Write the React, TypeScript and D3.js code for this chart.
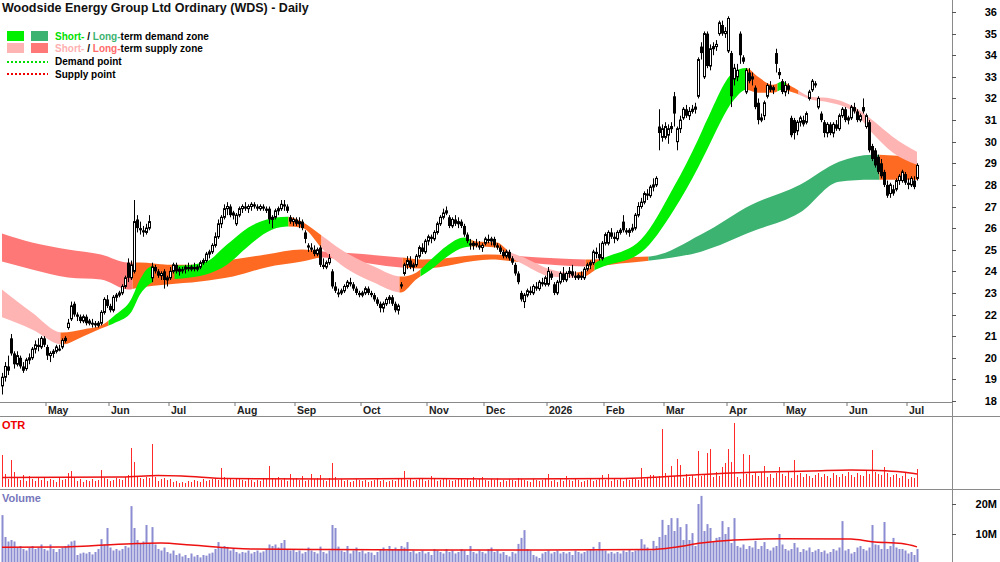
import React from 'react';
import * as d3 from 'd3';

const FONT = '"Liberation Sans", Arial, sans-serif';

// daily candles: [open, high, low, close]
const candles: number[][] = [
  [18.7,19.3,18.3,19.1],[19.1,19.8,18.9,19.6],[19.6,20.1,19.2,19.4],[20.9,21.1,20.1,20.2],[20.2,20.3,19.5,19.7],
  [19.7,20.3,19.6,20.1],[20.0,20.1,19.5,19.6],[19.6,19.8,19.3,19.4],[19.5,20.0,19.4,19.9],[19.9,20.2,19.7,20.0],
  [20.0,20.5,19.9,20.4],[20.4,20.8,20.2,20.6],[20.6,20.9,20.3,20.5],[20.5,21.0,20.4,20.9],[20.9,21.0,20.5,20.6],
  [20.5,20.6,19.9,20.1],[20.1,20.3,19.8,20.2],[20.2,20.4,20.0,20.3],[20.3,20.6,20.2,20.5],[20.4,20.6,20.3,20.4],
  [20.5,20.9,20.4,20.8],[20.8,21.0,20.7,20.9],[21.4,21.8,21.3,21.6],[21.8,22.6,21.7,22.4],[22.5,22.6,21.9,22.0],
  [22.0,22.1,21.7,21.9],[21.9,22.0,21.6,21.7],[21.7,22.0,21.6,21.9],[21.9,22.0,21.5,21.6],[21.6,21.8,21.5,21.7],
  [21.6,21.8,21.4,21.6],[21.6,21.7,21.4,21.5],[21.5,21.7,21.4,21.6],[21.6,22.2,21.5,22.1],[22.1,22.8,22.0,22.7],
  [22.7,22.9,22.3,22.4],[22.4,22.5,22.1,22.2],[22.2,22.9,22.1,22.8],[22.8,23.0,22.6,22.9],[22.9,23.1,22.8,23.0],
  [23.0,23.4,22.9,23.3],[23.3,23.8,23.2,23.7],[24.4,24.6,23.5,23.7],[23.7,24.5,23.6,24.3],[24.0,27.3,23.9,26.3],
  [26.4,26.6,25.8,26.0],[26.0,26.3,25.7,25.9],[25.9,26.1,25.6,25.8],[25.8,26.2,25.7,26.0],[26.0,26.6,25.9,26.3],
  [23.7,24.4,23.5,24.2],[24.2,24.3,23.9,24.0],[24.0,24.1,23.7,23.8],[23.8,24.0,23.6,23.9],[24.0,24.1,23.2,23.6],
  [23.6,23.8,23.3,23.7],[23.7,24.2,23.6,24.0],[24.0,24.4,23.9,24.3],[24.3,24.4,23.9,24.0],[24.0,24.2,23.8,24.1],
  [24.1,24.2,23.9,24.0],[24.1,24.3,23.9,24.2],[24.2,24.4,24.0,24.1],[24.1,24.3,24.0,24.2],[24.2,24.4,24.0,24.1],
  [24.1,24.3,24.0,24.2],[24.2,24.5,24.1,24.4],[24.4,24.6,24.3,24.5],[24.5,24.9,24.4,24.8],[24.8,25.0,24.6,24.9],
  [24.9,25.3,24.8,25.2],[25.2,25.8,25.1,25.6],[25.6,26.4,25.5,26.2],[26.2,26.6,26.0,26.5],[26.5,27.1,26.4,26.9],
  [26.9,27.2,26.6,27.0],[27.0,27.1,26.5,26.6],[26.6,26.8,26.4,26.7],[26.2,26.7,26.1,26.6],[26.6,27.0,26.5,26.9],
  [26.9,27.1,26.7,27.0],[27.0,27.2,26.8,26.9],[26.9,27.1,26.7,27.0],[27.0,27.2,26.8,27.1],[27.1,27.2,26.9,27.0],
  [27.0,27.1,26.8,26.9],[26.9,27.1,26.8,27.0],[27.0,27.1,26.8,26.9],[26.9,27.0,26.7,26.8],[26.9,27.0,26.2,26.4],
  [26.4,26.6,26.0,26.5],[26.5,26.9,26.4,26.8],[26.8,27.0,26.6,26.9],[26.9,27.3,26.8,27.1],[27.1,27.3,26.8,27.0],
  [27.0,27.1,26.7,26.8],[26.5,26.6,26.2,26.3],[26.3,26.5,26.1,26.4],[26.4,26.5,26.1,26.2],[26.2,26.5,26.0,26.3],
  [26.3,26.4,25.9,26.0],[25.8,25.9,25.3,25.5],[25.2,25.3,24.9,25.1],[25.1,25.3,24.9,25.0],[25.0,25.2,24.7,24.8],
  [24.8,25.1,24.7,25.0],[25.1,25.2,24.2,24.3],[24.3,24.6,24.1,24.2],[24.2,24.5,24.1,24.4],[24.4,24.8,24.3,24.6],
  [24.0,24.1,23.2,23.3],[23.3,23.5,23.0,23.1],[23.0,23.2,22.8,23.0],[23.0,23.2,22.9,23.1],[23.1,23.4,23.0,23.3],
  [23.3,23.6,23.2,23.5],[23.5,23.7,23.3,23.4],[23.4,23.5,23.1,23.2],[23.2,23.3,22.9,23.0],[23.0,23.1,22.8,22.9],
  [22.9,23.1,22.8,23.0],[23.0,23.3,22.9,23.2],[23.2,23.3,22.9,23.0],[23.0,23.1,22.8,22.9],[22.9,23.0,22.6,22.7],
  [22.7,22.8,22.4,22.5],[22.5,22.6,22.1,22.3],[22.3,22.6,22.1,22.5],[22.5,22.8,22.4,22.7],[22.7,22.9,22.5,22.8],
  [22.8,22.9,22.4,22.5],[22.5,22.6,22.1,22.2],[22.2,22.5,22.0,22.4],[23.4,23.5,23.2,23.3],[23.9,24.4,23.8,24.3],
  [24.3,24.7,24.1,24.5],[24.5,24.7,24.1,24.2],[24.2,24.4,24.0,24.3],[24.3,24.8,24.2,24.7],[24.7,25.2,24.6,25.1],
  [25.1,25.3,24.8,24.9],[24.9,25.5,24.8,25.4],[25.4,25.7,25.2,25.6],[25.6,25.7,25.3,25.5],[25.5,25.9,25.4,25.8],
  [25.8,26.3,25.7,26.2],[26.2,26.6,26.1,26.5],[26.5,26.9,26.4,26.7],[26.7,27.0,26.6,26.8],[26.5,26.6,26.0,26.1],
  [26.1,26.5,26.0,26.4],[26.4,26.6,26.1,26.2],[26.2,26.5,26.0,26.3],[26.3,26.4,26.0,26.1],[26.1,26.2,25.6,25.7],
  [25.7,25.8,25.3,25.4],[25.3,25.5,25.0,25.2],[25.2,25.4,25.0,25.3],[25.3,25.5,25.1,25.2],[25.2,25.4,25.0,25.1],
  [25.1,25.3,24.9,25.2],[25.3,25.6,25.2,25.5],[25.5,25.7,25.3,25.4],[25.4,25.6,25.2,25.5],[25.5,25.6,25.1,25.2],
  [25.2,25.3,25.0,25.1],[25.1,25.2,24.8,24.9],[24.9,25.0,24.6,24.7],[24.7,25.0,24.6,24.9],[24.9,25.0,24.5,24.6],
  [24.6,24.7,24.3,24.4],[24.3,24.4,23.8,23.9],[23.9,24.0,23.4,23.5],[23.0,23.1,22.6,22.7],[22.6,23.0,22.3,22.9],
  [22.9,23.2,22.8,23.1],[23.1,23.3,22.9,23.0],[23.0,23.4,22.9,23.3],[23.3,23.5,23.1,23.2],[23.2,23.6,23.1,23.5],
  [23.5,23.7,23.3,23.4],[23.4,23.8,23.3,23.7],[23.4,24.2,23.3,24.0],[23.9,24.0,23.6,23.7],[23.4,23.5,22.9,23.0],
  [23.0,23.6,22.9,23.5],[23.5,24.0,23.4,23.9],[23.9,24.2,23.5,23.6],[23.6,24.0,23.5,23.9],[23.9,24.2,23.7,24.0],
  [24.0,24.3,23.7,23.8],[23.8,24.0,23.6,23.7],[23.7,23.9,23.6,23.8],[23.8,24.0,23.6,23.7],[23.7,24.2,23.6,24.1],
  [24.1,24.4,24.0,24.3],[24.3,24.5,24.1,24.4],[24.4,25.0,24.3,24.9],[24.9,25.1,24.6,24.8],[24.8,25.3,24.5,24.6],
  [24.6,25.4,24.5,25.3],[25.3,25.8,25.2,25.7],[25.3,25.9,25.2,25.8],[25.8,26.0,25.5,25.6],[25.6,25.8,25.3,25.5],
  [25.5,25.9,25.4,25.8],[25.8,26.0,25.7,25.9],[26.3,26.6,25.8,25.9],[25.9,26.0,25.7,25.8],[25.8,26.0,25.6,25.9],
  [25.9,26.2,25.8,26.0],[26.0,26.7,25.9,26.6],[26.6,27.2,26.5,27.0],[27.0,27.4,26.9,27.2],[27.2,27.7,27.1,27.6],
  [27.6,27.8,27.3,27.5],[27.5,28.0,27.4,27.9],[27.9,28.3,27.7,28.0],[28.0,28.4,27.9,28.3],[30.7,31.5,29.6,30.4],
  [30.2,30.8,30.0,30.6],[30.2,30.9,30.1,30.7],[30.3,30.8,29.9,30.6],[30.6,30.9,30.4,30.7],[32.1,32.3,30.7,31.3],
  [30.0,30.7,29.6,30.6],[30.6,31.2,30.4,31.0],[31.1,31.6,31.0,31.5],[31.5,31.7,31.1,31.2],[31.2,31.6,31.0,31.4],
  [31.4,31.7,31.3,31.5],[31.5,31.8,31.3,31.6],[32.1,33.9,32.0,33.8],[34.4,34.6,33.8,34.1],[33.0,35.1,32.9,35.0],
  [35.0,35.1,33.4,33.5],[33.5,34.5,33.3,34.3],[34.3,34.6,34.0,34.4],[34.4,34.7,34.2,34.5],[35.0,35.6,34.9,35.5],
  [35.4,35.6,34.9,35.0],[35.0,35.3,34.8,35.1],[34.2,35.8,34.1,35.7],[34.1,34.2,31.6,32.1],[32.9,33.6,32.6,33.4],
  [33.0,33.6,32.8,33.3],[35.0,35.1,33.6,34.0],[33.9,34.0,33.6,33.7],[32.3,33.4,32.2,33.3],[33.2,33.4,32.7,32.8],
  [32.9,33.2,32.6,33.0],[32.5,32.6,31.5,31.6],[31.8,32.0,30.8,31.0],[31.0,31.3,30.9,31.1],[31.2,31.9,31.0,31.8],
  [32.1,32.7,32.0,32.6],[32.6,32.8,32.3,32.4],[32.4,32.6,32.2,32.5],[34.1,34.3,33.2,33.6],[33.1,33.4,32.9,33.2],
  [32.8,32.9,32.2,32.3],[32.3,32.8,32.1,32.6],[32.6,32.7,32.2,32.4],[31.1,31.2,30.2,30.3],[31.0,31.1,30.1,30.4],
  [30.5,31.0,30.3,30.9],[30.9,31.2,30.7,31.1],[31.0,31.2,30.7,30.8],[30.9,31.4,30.8,31.3],[32.0,32.4,31.9,32.3],
  [32.4,32.9,32.3,32.8],[32.7,32.8,32.5,32.6],[31.6,32.1,31.5,32.0],[31.3,31.4,30.9,31.0],[30.9,31.0,30.2,30.4],
  [30.4,30.9,30.2,30.8],[30.8,30.9,30.3,30.4],[30.4,30.9,30.2,30.8],[30.8,31.0,30.5,30.6],[30.6,31.3,30.5,31.2],
  [31.2,31.6,31.1,31.5],[31.5,31.6,30.9,31.0],[31.0,31.2,30.8,31.1],[31.1,31.7,31.0,31.6],[31.6,31.8,31.3,31.4],
  [31.4,31.5,30.9,31.0],[31.0,31.3,30.9,31.2],[31.6,32.0,31.3,31.4],[30.7,31.3,30.6,31.2],[30.9,31.0,29.5,29.6],
  [29.8,29.9,29.1,29.2],[29.6,29.7,28.8,28.9],[29.3,29.4,28.5,28.6],[29.0,29.2,28.3,28.4],[28.6,28.7,27.9,28.0],
  [28.0,28.2,27.4,27.5],[27.6,28.1,27.4,28.0],[27.8,28.0,27.5,27.6],[27.8,28.3,27.7,28.2],[28.2,28.5,28.0,28.4],
  [28.2,28.7,28.1,28.6],[28.5,28.6,28.0,28.1],[28.1,28.3,27.8,28.0],[28.0,28.4,27.9,28.3],[28.2,28.4,27.8,27.9],
  [28.3,29.0,28.2,28.9],
];

// OTR per bar
const otr = [
  32,13,8,27,15,9,7,12,6,11, 8,6,9,7,10,6,8,7,5,9, 7,8,14,16,9,6,8,5,7,6, 8,6,7,17,9,8,6,7,9,8,
  7,10,12,39,25,11,9,8,10,9, 43,10,6,8,9,7,8,5,6,4, 5,4,6,5,7,6,5,8,6,7, 8,9,7,19,10,9,8,7,9,8,
  7,6,8,7,5,7,6,8,9,21, 9,8,10,7,9,6,13,8,9,7, 11,6,7,13,8,9,12,7,6,9, 24,10,7,8,6,7,5,6,8,7,
  6,7,5,6,7,8,6,7,5,6, 7,6,8,9,16,7,8,6,7,9, 8,6,7,11,8,6,7,9,8,7, 6,7,8,9,7,8,6,10,7,8,
  10,7,6,8,7,9,5,7,6,8, 7,6,9,8,7,6,5,8,7,6, 7,8,13,6,7,5,8,6,11,7, 6,8,7,5,6,7,8,6,7,9,
  12,7,13,6,8,7,9,6,8,7, 9,8,7,19,8,10,12,12,9,11, 58,14,10,21,11,28,22,9,13,10, 12,9,36,11,12,34,38,10,15,11,
  20,24,38,25,64,10,8,33,13,32, 12,14,11,15,21,10,13,9,14,20, 13,11,15,9,27,12,14,10,13,11, 9,12,14,10,13,11,9,14,12,10,
  13,11,15,12,10,14,12,11,16,13, 37,15,13,12,20,14,10,12,13,9, 11,14,8,10,9,18,
];
const otrAvgIdx = [0, 40, 52, 60, 75, 110, 140, 166, 205, 216, 230, 243, 253, 270, 283, 292, 300, 305];
const otrAvg = [9.5, 10, 11.5, 11, 8.5, 8, 8.5, 8, 8.5, 9.5, 12, 14, 15, 16, 17, 16.5, 15, 13];

// volume per bar, millions
const volume = [
  16.3,9.0,7.5,8.0,7.5,5.5,6.0,5.0,4.5,5.5, 6.0,5.0,5.5,6.5,5.0,4.5,6.5,5.0,4.0,5.0,
  5.5,6.0,6.5,7.5,7.8,3.0,3.5,3.8,3.5,4.0, 3.2,4.0,5.0,8.3,6.5,12.0,5.5,4.5,5.0,4.5,
  5.0,6.0,5.5,19.3,12.0,8.0,7.0,7.5,13.0,7.0, 12.3,6.5,5.0,4.5,5.5,4.0,3.5,4.5,3.0,3.5,
  2.5,3.0,2.0,3.5,2.5,3.0,2.2,3.0,2.8,3.5, 3.8,5.0,7.3,5.5,6.0,5.7,4.5,5.0,4.0,3.5,
  4.0,3.8,4.5,3.5,4.0,4.5,3.8,4.2,5.0,6.5, 6.0,6.5,5.5,7.0,8.0,5.0,4.5,5.0,4.0,4.5,
  3.5,4.0,5.5,4.5,4.0,3.5,5.8,4.0,3.5,4.5, 13.0,12.0,5.8,4.5,4.0,6.0,3.5,4.5,5.5,4.0,
  4.5,3.5,4.0,3.8,3.0,4.0,5.0,5.5,4.5,6.0, 5.0,5.5,5.0,6.0,5.5,7.3,4.0,4.5,3.5,4.0,
  4.5,3.5,4.0,3.0,5.0,4.5,4.0,3.5,5.0,4.0, 4.5,3.5,4.0,5.0,4.5,3.0,6.0,4.0,3.5,4.5,
  4.0,3.5,5.0,5.5,4.0,4.5,3.5,4.0,3.0,2.5, 4.0,3.5,6.7,8.7,11.3,5.0,4.5,3.0,2.5,2.0,
  3.5,4.0,4.5,3.5,4.0,4.5,3.5,4.0,3.5,4.0, 3.0,4.5,4.0,3.5,4.0,4.5,5.0,5.7,4.5,7.3,
  5.0,4.5,3.5,4.0,3.5,4.0,3.5,4.5,4.0,5.0, 4.0,4.5,5.0,8.3,6.5,5.5,4.5,7.7,6.0,9.0,
  14.7,9.7,13.0,15.3,11.0,15.3,12.3,8.0,13.3,8.0, 10.3,6.0,20.0,22.7,11.0,13.3,12.0,7.5,8.7,9.0,
  14.3,10.0,12.3,7.0,15.3,6.0,5.5,6.5,5.0,6.0, 5.5,7.7,5.0,6.0,7.3,5.0,4.5,5.5,6.0,10.0,
  6.5,5.0,4.5,5.0,7.0,5.5,4.0,5.0,4.5,5.5, 4.0,4.5,5.0,4.0,4.5,3.5,4.0,5.0,4.5,5.5,
  14.3,4.5,5.0,3.5,4.0,5.5,6.0,5.0,4.5,5.5, 13.0,6.5,6.3,5.0,14.0,5.0,6.0,8.7,5.5,5.0,
  5.0,4.5,3.5,4.0,3.0,5.0,
];
const volAvgIdx = [0, 20, 30, 45, 53, 63, 83, 109, 140, 180, 216, 225, 233, 244, 260, 283, 290, 300, 305];
const volAvg = [5.6, 5.7, 6.1, 6.8, 7.0, 6.3, 5.0, 4.8, 4.7, 4.7, 4.8, 5.7, 7.0, 8.0, 8.4, 8.3, 7.4, 6.8, 5.7];

// zone bands (upper / lower prices at sampled bars)
const shortIdx = [0,10,20,27,33,38,43,46,49,53,60,68,75,82,88,95,100,107,113,124,133,138,143,148,154,158,165,169,174,183,189,194,198,213,224,232,235,244,248,252,257,260,264,270,275,284,290,297,305];
const shortUpper = [23.16,22.10,21.17,21.31,21.50,22.01,22.70,23.62,24.18,24.31,24.27,24.45,25.24,26.02,26.39,26.53,26.30,25.61,25.01,24.22,23.76,23.94,24.55,25.15,25.56,25.38,25.33,24.92,24.64,24.08,23.94,23.99,24.41,25.47,27.92,30.09,31.01,33.23,33.41,33.00,32.63,32.77,32.49,32.07,32.03,31.61,31.01,30.22,29.53];
const shortLower = [21.87,21.31,20.62,20.99,21.36,21.64,22.10,22.93,23.39,23.62,23.67,23.85,24.31,25.15,25.79,26.07,26.02,25.01,24.31,23.48,23.02,23.62,24.08,24.64,25.10,25.15,25.10,24.69,24.31,23.76,23.71,23.76,24.08,24.87,26.85,28.79,29.63,31.94,32.40,32.26,32.26,32.40,32.26,31.94,31.84,31.38,30.41,29.49,28.93];
const longIdx = [0,10,22,33,42,46,55,66,77,88,100,107,113,133,140,163,174,196,206,216,233,250,266,279,290,305];
const longUpper = [25.75,25.33,25.01,24.78,24.41,24.41,24.31,24.31,24.55,24.78,25.01,24.92,24.87,24.64,24.55,24.78,24.69,24.55,24.64,24.69,25.70,27.09,28.01,29.07,29.40,29.26];
const longLower = [24.45,24.08,23.71,23.62,23.16,23.25,23.39,23.53,23.76,24.18,24.45,24.64,24.55,24.18,24.13,24.55,24.41,24.22,24.36,24.50,24.91,25.84,26.72,28.15,28.24,28.24];

// zone state per bar range: [from, to, kind]
const shortZones: [number, number, string][] = [
  [0, 20, 'sSupply'], [20, 36, 'over'], [36, 51, 'sDemand'], [51, 58, 'over'], [58, 96, 'sDemand'],
  [96, 107, 'over'], [107, 133, 'sSupply'], [133, 140, 'over'], [140, 157, 'sDemand'], [157, 169, 'over'],
  [169, 192, 'sSupply'], [192, 198, 'over'], [198, 249, 'sDemand'], [249, 259, 'over'], [259, 262, 'sDemand'],
  [262, 266, 'over'], [266, 306, 'sSupply'],
];
const longZones: [number, number, string][] = [
  [0, 44, 'lSupply'], [44, 107, 'over'], [107, 134, 'lSupply'], [134, 173, 'over'], [173, 195, 'lSupply'],
  [195, 216, 'over'], [216, 293, 'lDemand'], [293, 306, 'over'],
];

const monthLabels = ['May', 'Jun', 'Jul', 'Aug', 'Sep', 'Oct', 'Nov', 'Dec', '2026', 'Feb', 'Mar', 'Apr', 'May', 'Jun', 'Jul'];
const monthStart = [15, 36, 56, 78, 98, 120, 142, 161, 182, 201, 221, 242, 261, 282, 302];
const priceTicks = [18, 19, 20, 21, 22, 23, 24, 25, 26, 27, 28, 29, 30, 31, 32, 33, 34, 35, 36];
const volTicks = [10, 20];
const volTickLabels = ['10M', '20M'];

const COLORS: Record<string, string> = {
  sDemand: '#00f000',
  lDemand: '#3cb371',
  sSupply: '#ffb4b4',
  lSupply: '#ff7878',
  over: '#ff6a22',
};

const AXIS_X = 952;

export default function App() {
  const x = d3.scaleLinear().domain([0, 305]).range([2, 917]);
  const yP = d3.scaleLinear().domain([18, 36]).range([401, 12]);
  const yOtr = d3.scaleLinear().domain([0, 70]).range([487, 417]);
  const yVol = d3.scaleLinear().domain([0, 20]).range([564, 504]);

  const band = (idx: number[], up: number[], lo: number[]) =>
    d3.area<number>()
      .x(k => x(idx[k]))
      .y0(k => yP(lo[k]))
      .y1(k => yP(up[k]))
      .curve(d3.curveMonotoneX)(idx.map((_, k) => k)) || '';

  const shortPath = band(shortIdx, shortUpper, shortLower);
  const longPath = band(longIdx, longUpper, longLower);

  const avgLine = (idx: number[], vals: number[], y: d3.ScaleLinear<number, number>) =>
    d3.line<number>()
      .x(k => x(idx[k]))
      .y(k => y(vals[k]))
      .curve(d3.curveMonotoneX)(idx.map((_, k) => k)) || '';

  const txt = { fontFamily: FONT };

  return (
    <svg width={1000} height={562} style={{ position: 'absolute', left: 0, top: 0, background: '#fff' }}>
      <defs>
        {[...longZones.map((z, k) => ['lz' + k, z] as const), ...shortZones.map((z, k) => ['sz' + k, z] as const)].map(([id, z]) => (
          <clipPath id={id} key={id}>
            <rect x={x(z[0]) - 1.5} y={0} width={x(z[1]) - x(z[0])} height={402} />
          </clipPath>
        ))}
      </defs>

      {/* zones */}
      {longZones.map((z, k) => (
        <path key={'l' + k} d={longPath} fill={COLORS[z[2]]} clipPath={`url(#lz${k})`} />
      ))}
      {shortZones.map((z, k) => (
        <path key={'s' + k} d={shortPath} fill={COLORS[z[2]]} clipPath={`url(#sz${k})`} />
      ))}

      {/* candles */}
      {candles.map((c, i) => {
        const cx = x(i);
        const [o, h, l, cl] = c;
        const up = cl >= o;
        const top = yP(Math.max(o, cl));
        const bot = yP(Math.min(o, cl));
        return (
          <g key={i}>
            <line x1={cx + 0.5} x2={cx + 0.5} y1={yP(h)} y2={yP(l)} stroke="#000" strokeWidth={1} />
            {up ? (
              <rect x={cx - 0.5} y={top} width={2} height={Math.max(bot - top, 1)} fill="#fff" stroke="#000" strokeWidth={1} />
            ) : (
              <rect x={cx - 1} y={top} width={3} height={Math.max(bot - top, 1.5)} fill="#000" />
            )}
          </g>
        );
      })}

      {/* frame lines */}
      <line x1={0} x2={AXIS_X} y1={402.5} y2={402.5} stroke="#8a8a8a" />
      <line x1={0} x2={1000} y1={416.5} y2={416.5} stroke="#8a8a8a" />
      <line x1={0} x2={1000} y1={489.5} y2={489.5} stroke="#8a8a8a" />
      <line x1={AXIS_X + 0.5} x2={AXIS_X + 0.5} y1={0} y2={562} stroke="#8a8a8a" />

      {/* price axis */}
      {priceTicks.map(p => (
        <g key={p}>
          <line x1={AXIS_X} x2={AXIS_X + 4} y1={Math.round(yP(p)) + 0.5} y2={Math.round(yP(p)) + 0.5} stroke="#555" />
          <text x={997} y={yP(p) + 4} textAnchor="end" fontSize={11} fontWeight="bold" {...txt}>{p}</text>
        </g>
      ))}

      {/* month axis */}
      {monthStart.map((m, k) => (
        <g key={k}>
          <line x1={x(m) - 1} x2={x(m) - 1} y1={402} y2={406} stroke="#777" />
          <text x={x(m) + 1} y={414} fontSize={10.5} fontWeight="bold" fill="#222" {...txt}>{monthLabels[k]}</text>
        </g>
      ))}

      {/* OTR panel */}
      {otr.map((v, i) => (
        <line key={i} x1={x(i) + 0.5} x2={x(i) + 0.5} y1={yOtr(0)} y2={yOtr(v)} stroke="#ff2a2a" strokeWidth={1} />
      ))}
      <path d={avgLine(otrAvgIdx, otrAvg, yOtr)} fill="none" stroke="#ee1111" strokeWidth={1.5} />
      <text x={2} y={429} fontSize={11} fontWeight="bold" fill="#ee0000" {...txt}>OTR</text>

      {/* Volume panel */}
      {volume.map((v, i) => (
        <rect key={i} x={x(i) - 0.5} y={yVol(v)} width={2} height={yVol(0) - yVol(v)} fill="#8c8cd2" />
      ))}
      <path d={avgLine(volAvgIdx, volAvg, yVol)} fill="none" stroke="#ee1111" strokeWidth={1.5} />
      <text x={2} y={502} fontSize={11} fontWeight="bold" fill="#7777bb" {...txt}>Volume</text>
      {volTicks.map((v, k) => (
        <g key={v}>
          <line x1={AXIS_X} x2={AXIS_X + 4} y1={Math.round(yVol(v)) + 0.5} y2={Math.round(yVol(v)) + 0.5} stroke="#555" />
          <text x={997} y={yVol(v) + 4} textAnchor="end" fontSize={11} fontWeight="bold" {...txt}>{volTickLabels[k]}</text>
        </g>
      ))}

      {/* title and legend */}
      <text x={2} y={12} fontSize={12.5} fontWeight="bold" fill="#111" {...txt}>Woodside Energy Group Ltd Ordinary (WDS) - Daily</text>
      <rect x={7} y={31} width={17} height={10} fill={COLORS.sDemand} />
      <rect x={31} y={31} width={17} height={10} fill={COLORS.lDemand} />
      <text x={55} y={40} fontSize={10} fontWeight="bold" {...txt}>
        <tspan fill="#00e000">Short-</tspan><tspan fill="#000"> / </tspan><tspan fill="#3cb371">Long-</tspan><tspan fill="#000">term demand zone</tspan>
      </text>
      <rect x={7} y={43} width={17} height={10} fill={COLORS.sSupply} />
      <rect x={31} y={43} width={17} height={10} fill={COLORS.lSupply} />
      <text x={55} y={52} fontSize={10} fontWeight="bold" {...txt}>
        <tspan fill="#ffb0b0">Short-</tspan><tspan fill="#000"> / </tspan><tspan fill="#ff6a6a">Long-</tspan><tspan fill="#000">term supply zone</tspan>
      </text>
      <line x1={7} x2={48} y1={62} y2={62} stroke="#00e000" strokeWidth={2} strokeDasharray="2,2" />
      <text x={55} y={65} fontSize={10} fontWeight="bold" {...txt}>Demand point</text>
      <line x1={7} x2={48} y1={74} y2={74} stroke="#ee0000" strokeWidth={2} strokeDasharray="2,2" />
      <text x={55} y={78} fontSize={10} fontWeight="bold" {...txt}>Supply point</text>
    </svg>
  );
}
